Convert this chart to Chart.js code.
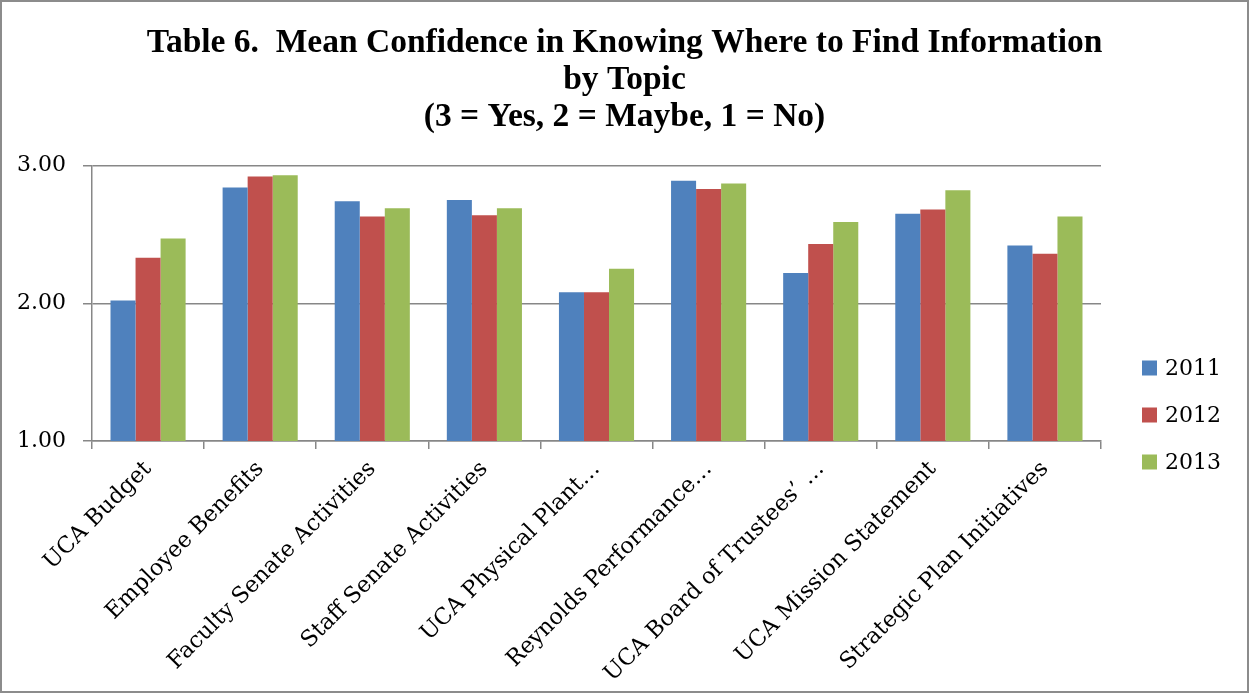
<!DOCTYPE html>
<html>
<head>
<meta charset="utf-8">
<script src="https://cdn.jsdelivr.net/npm/chart.js@4/dist/chart.umd.min.js"></script>
<style>
  html, body { margin: 0; padding: 0; background: #fff; }
  #wrap { position: relative; width: 1249px; height: 693px; }
</style>
</head>
<body>
<div id="wrap"><canvas id="c"></canvas></div>
<script>
const categories = [
  "UCA Budget",
  "Employee Benefits",
  "Faculty Senate Activities",
  "Staff Senate Activities",
  "UCA Physical Plant\u2026",
  "Reynolds Performance\u2026",
  "UCA Board of Trustees\u2019 \u2026",
  "UCA Mission Statement",
  "Strategic Plan Initiatives"
];
const seriesNames = ["2011", "2012", "2013"];
const values2011 = [2.02, 2.84, 2.74, 2.75, 2.08, 2.89, 2.22, 2.65, 2.42];
const values2012 = [2.33, 2.92, 2.63, 2.64, 2.08, 2.83, 2.43, 2.68, 2.36];
const values2013 = [2.47, 2.93, 2.69, 2.69, 2.25, 2.87, 2.59, 2.82, 2.63];
const yTicks = [1, 2, 3];
const titleLines = [
  "Table 6.  Mean Confidence in Knowing Where to Find Information",
  "by Topic",
  "(3 = Yes, 2 = Maybe, 1 = No)"
];

const colors = ["#4F81BD", "#C0504D", "#9BBB59"];
const axisFont = "'DejaVu Serif', serif";
const gridColor = "#878787";

const sideLegend = {
  id: "sideLegend",
  afterDraw(chart) {
    const ctx = chart.ctx;
    const x0 = chart.chartArea.right + 41;
    const yMid = 415, gap = 47;
    const n = chart.data.datasets.length;
    ctx.save();
    ctx.font = "22px " + axisFont;
    ctx.textBaseline = "middle";
    ctx.textAlign = "left";
    chart.data.datasets.forEach((ds, i) => {
      const y = yMid + (i - (n - 1) / 2) * gap;
      ctx.fillStyle = ds.backgroundColor;
      ctx.fillRect(x0, y - 7.5, 15, 15);
      ctx.fillStyle = "#000";
      ctx.fillText(ds.label, x0 + 23, y + 1);
    });
    ctx.restore();
  }
};

const frame = {
  id: "frame",
  afterDraw(chart) {
    const ctx = chart.ctx;
    ctx.save();
    ctx.strokeStyle = "#8c8c8c";
    ctx.lineWidth = 2;
    ctx.strokeRect(1, 1, chart.width - 2, chart.height - 2);
    ctx.restore();
  }
};

new Chart(document.getElementById("c"), {
  type: "bar",
  data: {
    labels: categories,
    datasets: [
      { label: seriesNames[0], data: values2011, backgroundColor: colors[0] },
      { label: seriesNames[1], data: values2012, backgroundColor: colors[1] },
      { label: seriesNames[2], data: values2013, backgroundColor: colors[2] }
    ]
  },
  options: {
    responsive: true,
    maintainAspectRatio: false,
    animation: false,
    layout: { padding: 0 },
    datasets: { bar: { categoryPercentage: 0.67, barPercentage: 1.0, borderWidth: 0 } },
    plugins: {
      legend: { display: false },
      tooltip: { enabled: false },
      title: {
        display: true,
        text: titleLines,
        color: "#000",
        font: { family: "'Liberation Serif', serif", size: 33.5, weight: "bold", lineHeight: 1.1 },
        padding: { top: 25, bottom: 30 }
      }
    },
    scales: {
      x: {
        grid: { offset: true, drawOnChartArea: false, drawTicks: true, tickLength: 8, color: gridColor, lineWidth: 1.5 },
        border: { color: gridColor, width: 1.5 },
        ticks: { color: "#000", font: { family: axisFont, size: 22.5 }, minRotation: 45, maxRotation: 45, autoSkip: false, padding: 7 },
        afterFit(s) { s.height = 252; }
      },
      y: {
        min: 1, max: 3,
        afterBuildTicks(s) { s.ticks = yTicks.map(v => ({ value: v })); },
        grid: { color: gridColor, lineWidth: 1.5, tickLength: 9 },
        border: { color: gridColor, width: 1.5 },
        ticks: { color: "#000", font: { family: axisFont, size: 22 }, padding: 17, callback: v => Number(v).toFixed(2) },
        afterFit(s) { s.width = 92; }
      },
      legendSpace: {
        type: "linear", position: "right", display: true,
        grid: { display: false, drawTicks: false },
        border: { display: false },
        ticks: { display: false },
        afterFit(s) { s.width = 148; }
      }
    }
  },
  plugins: [sideLegend, frame]
});
</script>
</body>
</html>
